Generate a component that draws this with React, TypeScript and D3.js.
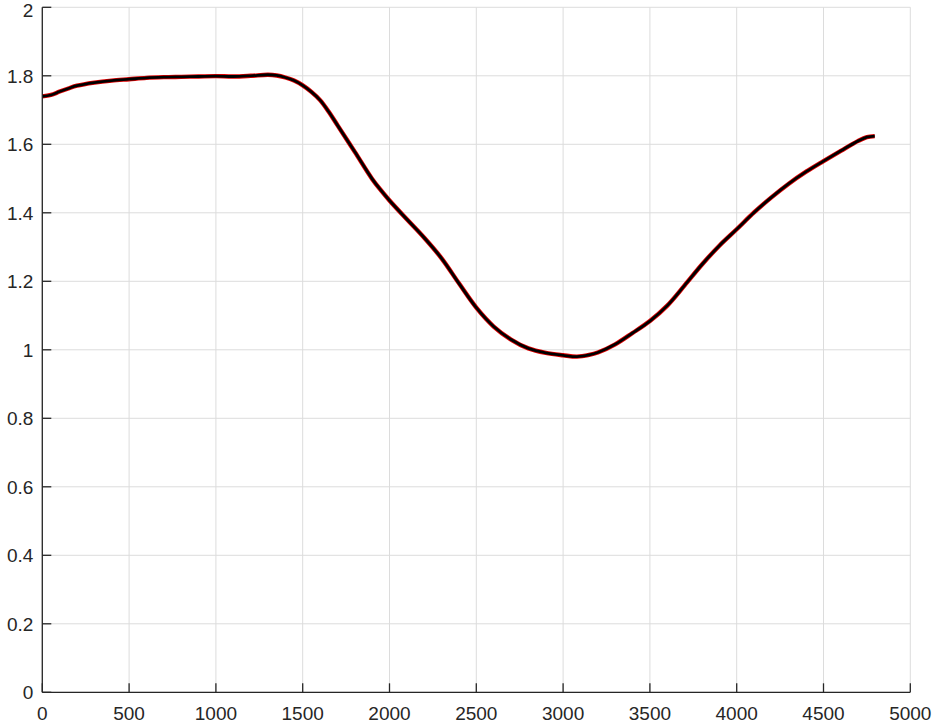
import React from "react";
import * as d3 from "d3";

const xValues = [0, 50, 100, 150, 200, 300, 400, 500, 600, 700, 800, 900, 1000, 1100, 1200, 1300, 1350, 1400, 1450, 1500, 1550, 1600, 1650, 1700, 1800, 1900, 1950, 2000, 2100, 2200, 2300, 2400, 2500, 2600, 2700, 2800, 2900, 3000, 3080, 3150, 3200, 3300, 3400, 3500, 3600, 3700, 3800, 3900, 4000, 4100, 4200, 4300, 4400, 4500, 4600, 4700, 4750, 4795];
const yValues = [1.740, 1.744, 1.754, 1.763, 1.771, 1.780, 1.786, 1.790, 1.794, 1.796, 1.797, 1.798, 1.799, 1.798, 1.800, 1.803, 1.801, 1.795, 1.786, 1.772, 1.753, 1.729, 1.695, 1.656, 1.578, 1.499, 1.466, 1.436, 1.381, 1.327, 1.267, 1.194, 1.123, 1.068, 1.030, 1.004, 0.991, 0.984, 0.980, 0.985, 0.992, 1.016, 1.049, 1.084, 1.129, 1.188, 1.249, 1.304, 1.352, 1.401, 1.445, 1.485, 1.520, 1.551, 1.581, 1.610, 1.621, 1.624];
const xTicks = [0, 500, 1000, 1500, 2000, 2500, 3000, 3500, 4000, 4500, 5000];
const yTicks = [0, 0.2, 0.4, 0.6, 0.8, 1, 1.2, 1.4, 1.6, 1.8, 2];

const W = 936, H = 728;
const left = 42.3, right = 910.3, top = 7.3, bottom = 692.3;

export default function App() {
  const x = d3.scaleLinear().domain([0, 5000]).range([left, right]);
  const y = d3.scaleLinear().domain([0, 2]).range([bottom, top]);
  const pts: [number, number][] = xValues.map((v, i) => [v, yValues[i]]);
  const line = d3.line<[number, number]>().x(d => x(d[0])).y(d => y(d[1])).curve(d3.curveCatmullRom.alpha(0.5));
  const path = line(pts) || "";
  const axisColor = "#262626";
  const font = "'Liberation Sans', Arial, sans-serif";
  return (
    <svg width={W} height={H} style={{ position: "absolute", left: 0, top: 0, background: "#fff" }}>
      <rect x={0} y={0} width={W} height={H} fill="#fff" />
      {xTicks.map(t => (
        <line key={"gx" + t} x1={x(t)} x2={x(t)} y1={top} y2={bottom} stroke="#dcdcdc" strokeWidth={1} />
      ))}
      {yTicks.map(t => (
        <line key={"gy" + t} x1={left} x2={right} y1={y(t)} y2={y(t)} stroke="#dcdcdc" strokeWidth={1} />
      ))}
      <path d={path} fill="none" stroke="#e00000" strokeWidth={4.4} strokeLinejoin="round" />
      <path d={path} fill="none" stroke="#000" strokeWidth={2.8} strokeLinejoin="round" />
      <line x1={left} x2={right} y1={bottom} y2={bottom} stroke={axisColor} strokeWidth={1.3} />
      <line x1={left} x2={left} y1={top} y2={bottom} stroke={axisColor} strokeWidth={1.3} />
      {xTicks.map(t => (
        <g key={"tx" + t}>
          <line x1={x(t)} x2={x(t)} y1={bottom} y2={bottom - 9} stroke={axisColor} strokeWidth={1.3} />
          <text x={x(t)} y={bottom + 28} textAnchor="middle" fontFamily={font} fontSize={19} fill={axisColor}>{String(t)}</text>
        </g>
      ))}
      {yTicks.map(t => (
        <g key={"ty" + t}>
          <line x1={left} x2={left + 9} y1={y(t)} y2={y(t)} stroke={axisColor} strokeWidth={1.3} />
          <text x={left - 9} y={Math.max(y(t) + 7, 17)} textAnchor="end" fontFamily={font} fontSize={19} fill={axisColor}>{String(t)}</text>
        </g>
      ))}
    </svg>
  );
}
